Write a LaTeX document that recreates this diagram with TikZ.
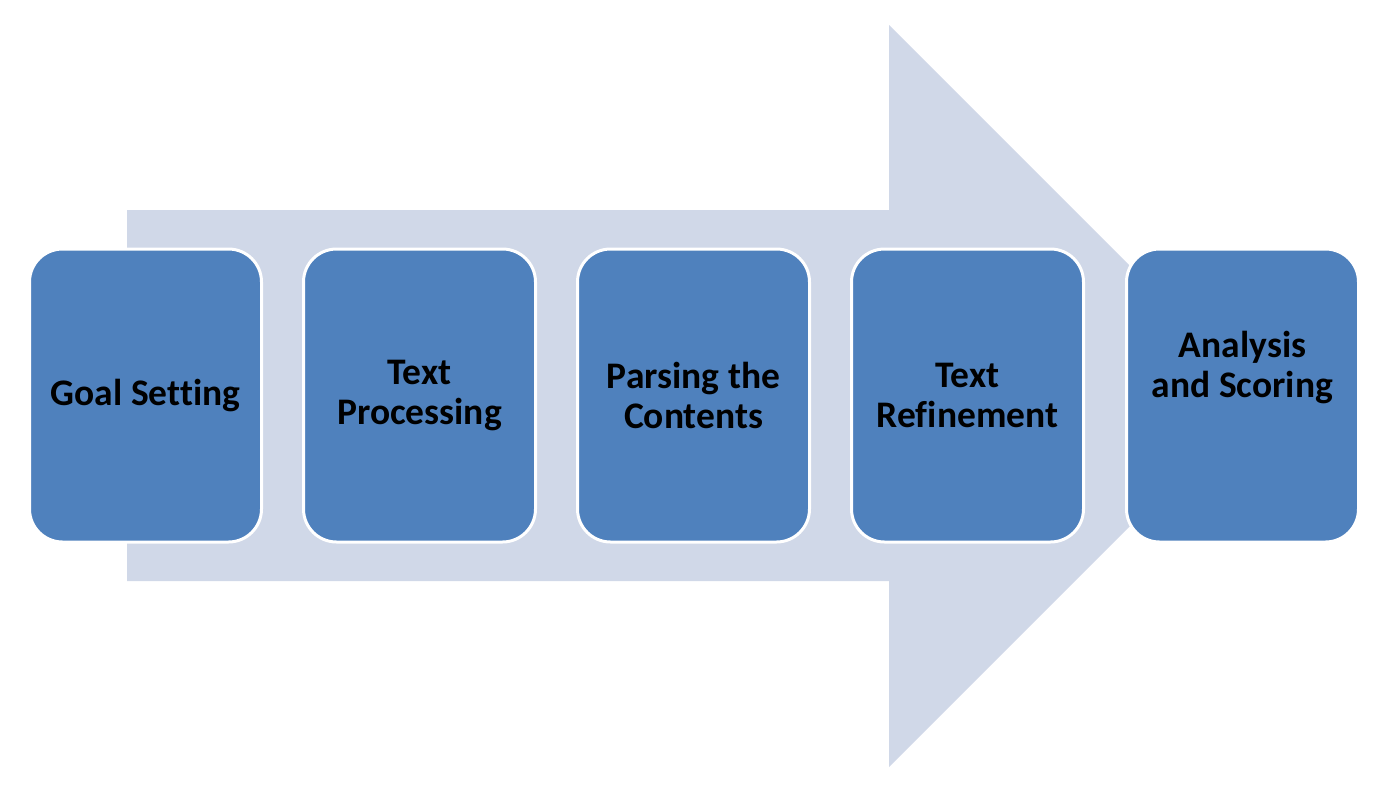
\documentclass[tikz,border=0pt]{standalone}
\usepackage{fontspec}
\setmainfont{Carlito}[Ligatures=NoCommon]
\definecolor{boxblue}{RGB}{79,129,189}
\definecolor{arrowfill}{RGB}{208,216,232}
\begin{document}
\begin{tikzpicture}[x=1pt,y=-1pt,
  stepbox/.style={draw=white,line width=3pt,fill=boxblue,rounded corners=33pt,
    minimum width=232pt,minimum height=293pt,inner sep=0pt},
  lbl/.style={font=\bfseries\fontsize{37.5}{40}\selectfont,align=center,text=black,inner sep=0pt}]
\useasboundingbox (0,0) rectangle (1385,793);
% big background arrow
\fill[arrowfill] (127,210) -- (889,210) -- (889,25) -- (1260,396) -- (889,767) -- (889,581) -- (127,581) -- cycle;
% boxes
\node[stepbox] (b1) at (145.5,395.5) {};
\node[stepbox] (b2) at (419.5,395.5) {};
\node[stepbox] (b3) at (693.5,395.5) {};
\node[stepbox] (b4) at (967.5,395.5) {};
\node[stepbox] (b5) at (1242.5,395.5) {};
% labels
\node[lbl] (t1) at (b1.center) {Goal Setting};
\node[lbl] (t2) at (b2.center) {Text\\Processing};
\node[lbl] (t3) at (b3.center) {Parsing the\\Contents};
\node[lbl] (t4) at (b4.center) {Text\\Refinement};
\node[lbl,yshift=28pt] (t5) at (b5.center) {Analysis\\and Scoring};
\end{tikzpicture}
\end{document}
